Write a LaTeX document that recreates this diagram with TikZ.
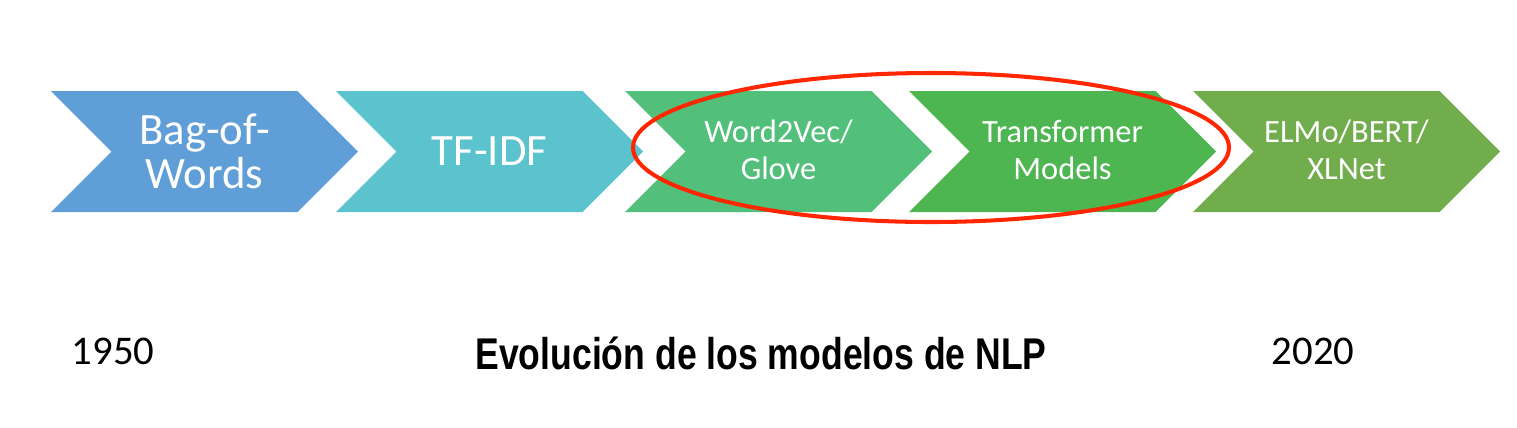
\documentclass[tikz,border=0pt]{standalone}
\usepackage{fontspec}
\setmainfont{Carlito}
\newfontfamily\titlefont[FakeStretch=0.8]{Liberation Sans Bold}
\definecolor{bagblue}{HTML}{5F9ED6}
\definecolor{tfteal}{HTML}{5BC3CD}
\definecolor{wvgreen}{HTML}{52BF7B}
\definecolor{trgreen}{HTML}{4DB650}
\definecolor{elgreen}{HTML}{71AC4D}
\definecolor{ringred}{HTML}{FF2600}
\tikzset{
  chevtext/.style={text=white, align=center, font=\fontsize{25.5}{24.9}\selectfont},
  chevsmall/.style={text=white, align=center, font=\fontsize{18.5}{20.7}\selectfont},
  yeartext/.style={anchor=base, font=\fontsize{23.2}{28}\selectfont}
}

\begin{document}
\begin{tikzpicture}[x=0.02cm, y=-0.02cm]
\useasboundingbox (0,0) rectangle (1517,427);
\foreach \l/\c in {51/bagblue,336/tfteal,625/wvgreen,909/trgreen,1193/elgreen}
  {\fill[\c] (\l,91) -- ++(246.5,0) -- ++(60.5,60.5) -- ++(-60.5,60.5) -- ++(-246.5,0) -- ++(60.5,-60.5) -- cycle;}
\node[chevtext] (bow) at (204.5,151.5) {Bag-of-\\Words};
\node[chevtext] (tfidf) at (489.5,151.5) {TF-IDF};
\node[chevsmall] (w2v) at (778.5,150) {Word2Vec/\\Glove};
\node[chevsmall] (trans) at (1062.5,150) {Transformer\\Models};
\node[chevsmall] (elmo) at (1346.5,150) {ELMo/BERT/\\XLNet};
\draw[ringred, line width=2.3pt] (931,147.5) ellipse [x radius=298, y radius=74.5];
\node[yeartext] (y1950) at (113,364) {1950};
\node[yeartext] (y2020) at (1313,364) {2020};
\node[anchor=base, font=\titlefont\fontsize{25.3}{30}\selectfont] (title) at (761,369) {Evolución de los modelos de NLP};
\end{tikzpicture}
\end{document}
